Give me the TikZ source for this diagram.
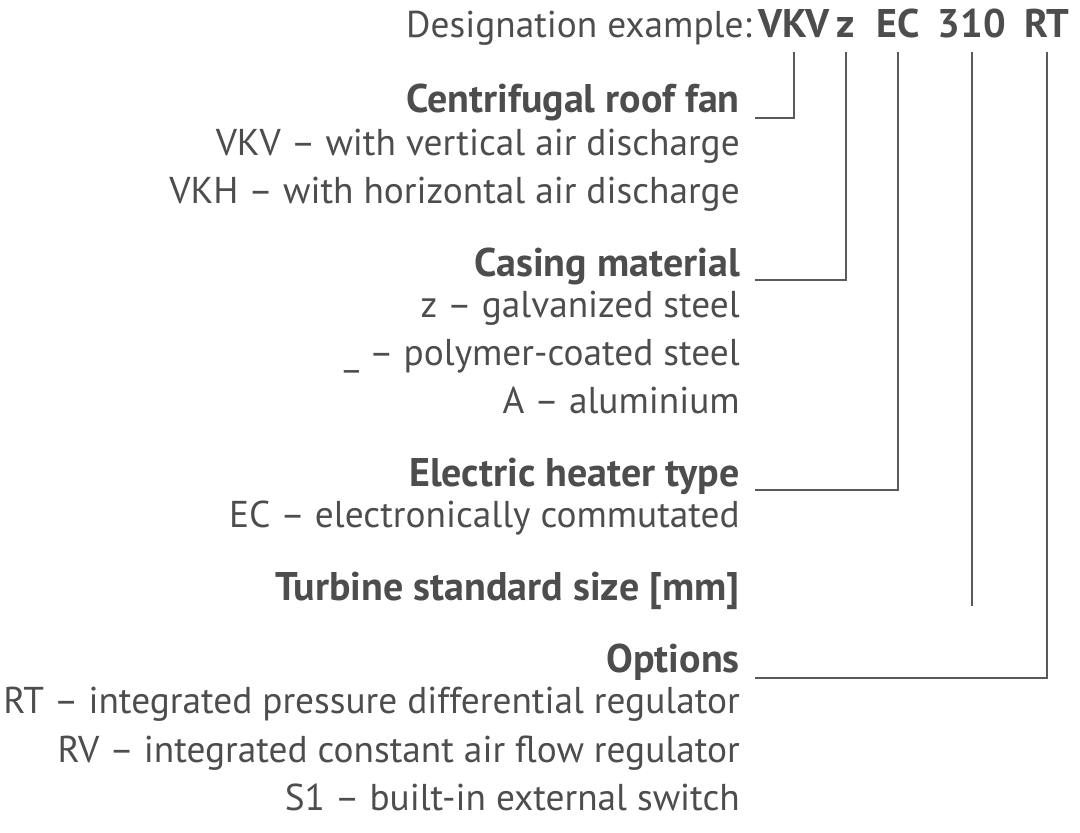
\documentclass[tikz,border=0pt]{standalone}
\usepackage{fontspec}
\setmainfont{PT Sans}
\definecolor{txtgray}{HTML}{4D4D4D}
\definecolor{linegray}{HTML}{5A5A5A}
\tikzset{
  txt/.style={anchor=base east,inner sep=0pt,text=txtgray,font=\fontsize{28}{32}\selectfont},
  head/.style={txt,font=\fontsize{30}{34}\selectfont\bfseries},
  code/.style={anchor=base,inner sep=0pt,text=txtgray,font=\fontsize{30}{34}\selectfont\bfseries},
  lead/.style={draw=linegray,line width=0.9pt}
}
\begin{document}
\begin{tikzpicture}[x=0.75pt,y=-0.75pt]
        \useasboundingbox (0,0) rectangle (1080,832);
        % designation
        \node[txt] (desig) at (752,37) {Designation example:};
        \node[code] (vkv) at (794,37) {VKV};
        \node[code] (zz) at (846,37) {z};
        \node[code] (ec) at (898,37) {EC};
        \node[code] (size) at (972,37) {310};
        \node[code] (rt) at (1047,37) {RT};

        % groups
        \node[head] (fan) at (740,112) {Centrifugal roof fan};
        \node[txt] (vkvt) at (740,155) {VKV – with vertical air discharge};
        \node[txt] (vkht) at (740,203) {VKH – with horizontal air discharge};

        \node[head] (casing) at (740,276) {Casing material};
        \node[txt] (zt) at (740,317) {z – galvanized steel};
        \node[txt] (pt) at (740,365) {\_ – polymer-coated steel};
        \node[txt] (at) at (740,413) {A – aluminium};

        \node[head] (heater) at (740,486) {Electric heater type};
        \node[txt] (ect) at (740,527) {EC – electronically commutated};

        \node[head] (turb) at (740,600) {Turbine standard size [mm]};

        \node[head] (opt) at (740,672) {Options};
        \node[txt] (rtt) at (740,713) {RT – integrated pressure differential regulator};
        \node[txt] (rvt) at (740,762) {RV – integrated constant air flow regulator};
        \node[txt] (s1t) at (740,810) {S1 – built-in external switch};

        % leaders
        \coordinate (fanend) at (755,118);
        \coordinate (casend) at (755,280);
        \coordinate (heatend) at (755,490);
        \coordinate (sizeend) at (972,606);
        \coordinate (optend) at (755,678);
        \draw[lead] ([yshift=-11pt]vkv.base) |- (fanend);
        \draw[lead] ([yshift=-11pt]zz.base) |- (casend);
        \draw[lead] ([yshift=-11pt]ec.base) |- (heatend);
        \draw[lead] ([yshift=-11pt]size.base) -- (sizeend);
        \draw[lead] ([yshift=-11pt]rt.base) |- (optend);
\end{tikzpicture}
\end{document}
